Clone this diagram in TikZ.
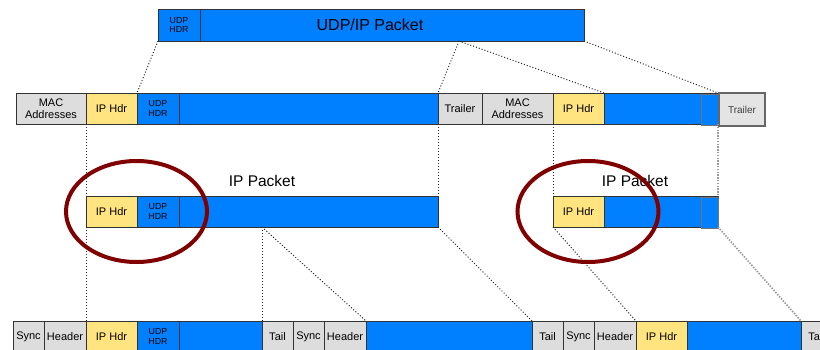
\documentclass[tikz,border=0pt]{standalone}
\usepackage{fontspec}
\setmainfont{Liberation Sans}
\usetikzlibrary{calc,shapes.geometric}
\definecolor{pblue}{RGB}{0,128,255}
\definecolor{pyellow}{RGB}{255,228,128}
\definecolor{pgray}{RGB}{221,221,221}
\definecolor{ered}{RGB}{128,0,0}
\newcommand\pcell[7]{\node[cell,#6,minimum width=#4pt,minimum height=#5pt] (#1) at (#2,#3) {#7};}
\begin{document}
\begin{tikzpicture}[x=1pt,y=-1pt,
  cell/.style={draw=black!80, line width=0.7pt, inner sep=0pt, outer sep=0pt, anchor=north west, align=center, font=\fontsize{11}{12}\selectfont},
  bluecell/.style={fill=pblue},
  yelcell/.style={fill=pyellow},
  graycell/.style={fill=pgray},
  udpfont/.style={font=\fontsize{8.8}{9.8}\selectfont},
  endcell/.style={fill=pblue, draw=black!55},
  dotline/.style={black!85, line width=1pt, dash pattern=on 1pt off 2pt},
  gdot/.style={black!40, line width=1.7pt, dash pattern=on 1.4pt off 1.4pt},
  ring/.style={draw=ered, line width=4pt, ellipse, inner sep=0pt, minimum width=141pt, minimum height=101pt},
  biglabel/.style={font=\fontsize{15.5}{17}\selectfont, inner sep=0pt}
]
\useasboundingbox (0,0) rectangle (820,350);
\clip (0,0) rectangle (820,350);

% Row 1
\pcell{udpbar}{158}{9}{426}{32}{bluecell,font=\fontsize{16}{18}\selectfont}{\hspace*{-2pt}UDP/IP Packet}
\pcell{udphdr}{158}{9}{42}{32}{bluecell,udpfont}{UDP\\HDR}

% Row 2
\pcell{a2mac}{16}{93}{70}{31}{graycell}{MAC\\Addresses}
\pcell{a2ip}{86}{93}{51}{31}{yelcell}{IP Hdr}
\pcell{a2udp}{137}{93}{42}{31}{bluecell,udpfont}{UDP\\HDR}
\pcell{a2blue}{179}{93}{259}{31}{bluecell}{}
\pcell{a2trl}{438}{93}{44}{31}{graycell}{Trailer}
\pcell{b2mac}{482}{93}{71}{31}{graycell}{MAC\\Addresses}
\pcell{b2ip}{553}{93}{51}{31}{yelcell}{IP Hdr}
\pcell{b2blue}{604}{93}{114}{31}{bluecell}{}
\pcell{b2end}{701}{94}{17}{31}{endcell}{}
\node[cell, fill=pgray!80, draw=black!60, line width=1.4pt, minimum width=46pt, minimum height=33pt, text=black!75, font=\fontsize{10}{11}\selectfont] (b2trl) at (719,93) {Trailer};

% Row 3
\pcell{a3ip}{86}{196}{51}{31}{yelcell}{IP Hdr}
\pcell{a3udp}{137}{196}{42}{31}{bluecell,udpfont}{UDP\\HDR}
\pcell{a3blue}{179}{196}{259}{31}{bluecell}{}
\pcell{b3ip}{553}{196}{51}{31}{yelcell}{IP Hdr}
\pcell{b3blue}{604}{196}{114}{31}{bluecell}{}
\pcell{b3end}{701}{197}{17}{31}{endcell}{}
\node[biglabel] (lab1) at (262,181) {IP Packet};
\node[biglabel] (lab2) at (635,181) {IP Packet};

% Row 4
\pcell{c4sync1}{13}{321}{31}{31}{graycell}{Sync}
\pcell{c4hdr1}{44}{321}{42}{31}{graycell}{Header}
\pcell{c4ip1}{86}{321}{51}{31}{yelcell}{IP Hdr}
\pcell{c4udp}{137}{321}{42}{31}{bluecell,udpfont}{UDP\\HDR}
\pcell{c4blue1}{179}{321}{83}{31}{bluecell}{}
\pcell{c4tail1}{262}{321}{31}{31}{graycell}{Tail}
\pcell{c4sync2}{293}{321}{31}{31}{graycell}{Sync}
\pcell{c4hdr2}{324}{321}{42}{31}{graycell}{Header}
\pcell{c4blue2}{366}{321}{166}{31}{bluecell}{}
\pcell{c4tail2}{532}{321}{31}{31}{graycell}{Tail}
\pcell{c4sync3}{563}{321}{31}{31}{graycell}{Sync}
\pcell{c4hdr3}{594}{321}{42}{31}{graycell}{Header}
\pcell{c4ip2}{636}{321}{51}{31}{yelcell}{IP Hdr}
\pcell{c4blue3}{687}{321}{114}{31}{bluecell}{}
\pcell{c4tail3}{801}{321}{31}{31}{graycell}{Tail}

% Rings
\node[ring] (ring1) at (136.5,211.5) {};
\node[ring] (ring2) at (588,211.5) {};

% Connectors row 1 -> row 2
\coordinate (split1) at (459,41);
\draw[dotline] (udpbar.south west) -- (a2udp.north west);
\draw[dotline] (split1) -- (a2blue.north east);
\draw[dotline] (split1) -- (b2ip.north east);
\draw[dotline] (udpbar.south east) -- (b2blue.north east);

% Row 2 -> row 3
\draw[dotline] (a2ip.south west) -- (a3ip.north west);
\draw[dotline] (a2blue.south east) -- (a3blue.north east);
\draw[dotline] (b2ip.south west) -- (b3ip.north west);
\draw[gdot] (b2blue.south east) -- (b3blue.north east);

% Row 3 -> row 4
\coordinate (split2) at (262,227);
\draw[dotline] (a3ip.south west) -- (c4ip1.north west);
\draw[dotline] (split2) -- (c4blue1.north east);
\draw[dotline] (split2) -- (c4blue2.north west);
\draw[dotline] (a3blue.south east) -- (c4blue2.north east);
\draw[dotline] (b3ip.south west) -- (c4ip2.north west);
\draw[gdot] (b3blue.south east) -- (c4blue3.north east);
\end{tikzpicture}
\end{document}
